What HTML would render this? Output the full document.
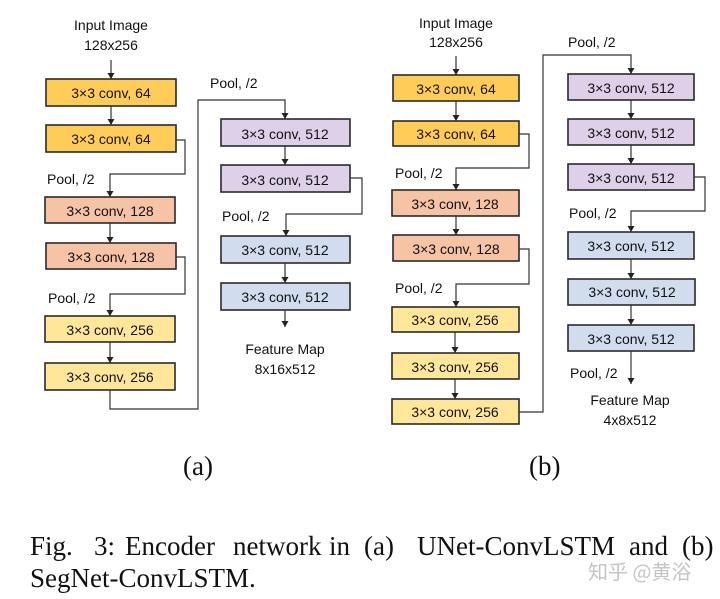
<!DOCTYPE html>
<html><head><meta charset="utf-8"><style>
html,body{margin:0;padding:0;background:#fff;}
svg{display:block;}
.b{stroke:#2a2a2a;stroke-width:1.6;}
.t{font-family:"Liberation Sans",sans-serif;font-size:14px;fill:#111;text-anchor:middle;}
.l{font-family:"Liberation Sans",sans-serif;font-size:14px;fill:#111;}
.c{stroke:#333;stroke-width:1.2;fill:none;}
.cap{font-family:"Liberation Serif",serif;font-size:27px;fill:#111;}
</style></head><body>
<svg width="720" height="599" viewBox="0 0 720 599" xmlns="http://www.w3.org/2000/svg">
<defs>
<marker id="d" markerWidth="8" markerHeight="8" refX="4" refY="7" orient="0" markerUnits="userSpaceOnUse"><path d="M0.5,1 L7.5,1 L4,7 z" fill="#222"/></marker></defs>

<!-- (a) -->
<text class="t" x="111" y="30">Input Image</text>
<text class="t" x="111" y="50">128x256</text>
<path class="c" d="M111,60 V79" marker-end="url(#d)"/>
<rect class="b" x="46" y="79" width="130" height="27" fill="#FFCD57"/><text class="t" x="111" y="98">3×3 conv, 64</text>
<path class="c" d="M111,106 V125" marker-end="url(#d)"/>
<rect class="b" x="46" y="125" width="130" height="27" fill="#FFCD57"/><text class="t" x="111" y="144">3×3 conv, 64</text>
<path class="c" d="M176,140 H185 V174 H110 V197" marker-end="url(#d)"/>
<text class="l" x="47" y="184">Pool, /2</text>
<rect class="b" x="45" y="197" width="130" height="26" fill="#F6C3A5"/><text class="t" x="110" y="216">3×3 conv, 128</text>
<path class="c" d="M110,223 V243" marker-end="url(#d)"/>
<rect class="b" x="46" y="243" width="130" height="26" fill="#F6C3A5"/><text class="t" x="111" y="262">3×3 conv, 128</text>
<path class="c" d="M176,257 H185 V294 H110 V316" marker-end="url(#d)"/>
<text class="l" x="48" y="303">Pool, /2</text>
<rect class="b" x="45" y="316" width="130" height="26" fill="#FFE699"/><text class="t" x="110" y="335">3×3 conv, 256</text>
<path class="c" d="M110,342 V363" marker-end="url(#d)"/>
<rect class="b" x="45" y="363" width="130" height="27" fill="#FFE699"/><text class="t" x="110" y="382">3×3 conv, 256</text>
<path class="c" d="M110,390 V409 H198 V100 H285 V119" marker-end="url(#d)"/>
<text class="l" x="210" y="88">Pool, /2</text>
<rect class="b" x="221" y="119" width="129" height="27" fill="#DDD0E8"/><text class="t" x="285" y="139">3×3 conv, 512</text>
<path class="c" d="M285,146 V165" marker-end="url(#d)"/>
<rect class="b" x="221" y="165" width="129" height="27" fill="#DDD0E8"/><text class="t" x="285" y="185">3×3 conv, 512</text>
<path class="c" d="M350,178 H362 V214 H286 V236" marker-end="url(#d)"/>
<text class="l" x="222" y="221">Pool, /2</text>
<rect class="b" x="221" y="236" width="129" height="27" fill="#D1DCEF"/><text class="t" x="285" y="255">3×3 conv, 512</text>
<path class="c" d="M285,263 V283" marker-end="url(#d)"/>
<rect class="b" x="221" y="283" width="129" height="27" fill="#D1DCEF"/><text class="t" x="285" y="302">3×3 conv, 512</text>
<path class="c" d="M285,310 V327" marker-end="url(#d)"/>
<text class="t" x="285" y="354">Feature Map</text>
<text class="t" x="285" y="374">8x16x512</text>

<!-- (b) -->
<text class="t" x="456" y="28">Input Image</text>
<text class="t" x="456" y="47">128x256</text>
<path class="c" d="M456,56 V75" marker-end="url(#d)"/>
<rect class="b" x="393" y="75" width="126" height="26" fill="#FFCD57"/><text class="t" x="456" y="94">3×3 conv, 64</text>
<path class="c" d="M456,101 V121" marker-end="url(#d)"/>
<rect class="b" x="393" y="121" width="126" height="25" fill="#FFCD57"/><text class="t" x="456" y="139">3×3 conv, 64</text>
<path class="c" d="M519,134 H529 V168 H456 V190" marker-end="url(#d)"/>
<text class="l" x="395" y="178">Pool, /2</text>
<rect class="b" x="392" y="190" width="127" height="26" fill="#F6C3A5"/><text class="t" x="455" y="209">3×3 conv, 128</text>
<path class="c" d="M456,216 V235" marker-end="url(#d)"/>
<rect class="b" x="393" y="235" width="126" height="26" fill="#F6C3A5"/><text class="t" x="456" y="254">3×3 conv, 128</text>
<path class="c" d="M519,249 H529 V284 H456 V307" marker-end="url(#d)"/>
<text class="l" x="395" y="293">Pool, /2</text>
<rect class="b" x="392" y="307" width="127" height="25" fill="#FFE699"/><text class="t" x="455" y="325">3×3 conv, 256</text>
<path class="c" d="M455,332 V353" marker-end="url(#d)"/>
<rect class="b" x="392" y="353" width="127" height="26" fill="#FFE699"/><text class="t" x="455" y="372">3×3 conv, 256</text>
<path class="c" d="M455,379 V399" marker-end="url(#d)"/>
<rect class="b" x="392" y="399" width="127" height="25" fill="#FFE699"/><text class="t" x="455" y="417">3×3 conv, 256</text>
<path class="c" d="M519,412 H543 V55 H631 V74" marker-end="url(#d)"/>
<text class="l" x="568" y="47">Pool, /2</text>
<rect class="b" x="568" y="74" width="126" height="26" fill="#DDD0E8"/><text class="t" x="631" y="93">3×3 conv, 512</text>
<path class="c" d="M631,100 V119" marker-end="url(#d)"/>
<rect class="b" x="568" y="119" width="126" height="26" fill="#DDD0E8"/><text class="t" x="631" y="138">3×3 conv, 512</text>
<path class="c" d="M631,145 V164" marker-end="url(#d)"/>
<rect class="b" x="568" y="164" width="126" height="26" fill="#DDD0E8"/><text class="t" x="631" y="183">3×3 conv, 512</text>
<path class="c" d="M694,177 H705 V211 H631 V232" marker-end="url(#d)"/>
<text class="l" x="569" y="218">Pool, /2</text>
<rect class="b" x="568" y="232" width="126" height="27" fill="#D1DCEF"/><text class="t" x="631" y="251">3×3 conv, 512</text>
<path class="c" d="M631,259 V279" marker-end="url(#d)"/>
<rect class="b" x="568" y="279" width="127" height="26" fill="#D1DCEF"/><text class="t" x="632" y="297">3×3 conv, 512</text>
<path class="c" d="M631,305 V325" marker-end="url(#d)"/>
<rect class="b" x="568" y="325" width="126" height="26" fill="#D1DCEF"/><text class="t" x="631" y="344">3×3 conv, 512</text>
<path class="c" d="M631,351 V384" marker-end="url(#d)"/>
<text class="l" x="570" y="378">Pool, /2</text>
<text class="t" x="630" y="405">Feature Map</text>
<text class="t" x="630" y="425">4x8x512</text>

<text class="cap" x="183" y="475" font-size="23">(a)</text>
<text class="cap" x="529" y="475" font-size="23">(b)</text>

<text class="cap" y="555"><tspan x="30">Fig.</tspan><tspan x="94">3:</tspan><tspan x="125">Encoder</tspan><tspan x="233">network</tspan><tspan x="329">in</tspan><tspan x="364">(a)</tspan><tspan x="417">UNet-ConvLSTM</tspan><tspan x="629">and</tspan><tspan x="682">(b)</tspan></text>
<text class="cap" x="30" y="587">SegNet-ConvLSTM.</text>
<text x="588" y="579" font-family="'Noto Sans CJK SC',sans-serif" font-size="20" fill="#c4c4c4">知乎 @黄浴</text>
</svg>
</body></html>
